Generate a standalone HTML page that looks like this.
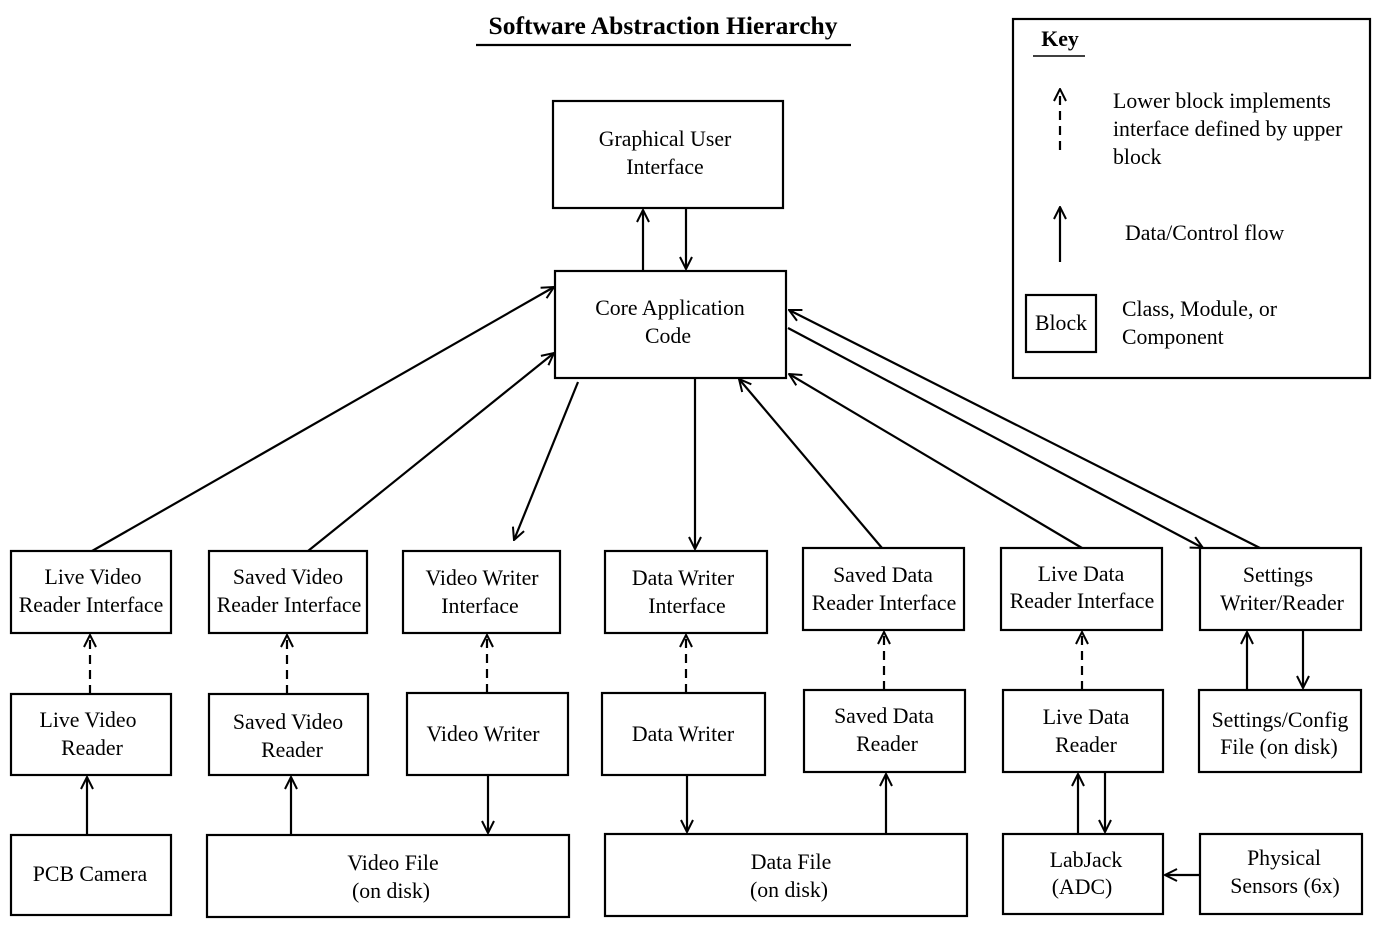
<!DOCTYPE html>
<html><head><meta charset="utf-8"><style>html,body{margin:0;padding:0;background:#fff}svg{display:block}</style></head>
<body>
<svg width="1387" height="929" viewBox="0 0 1387 929" xmlns="http://www.w3.org/2000/svg" font-family="Liberation Serif, serif" font-size="21.8" fill="#000">
<defs>
<marker id="a" viewBox="0 0 14 14" refX="13" refY="7" markerWidth="14" markerHeight="14" markerUnits="userSpaceOnUse" orient="auto">
<polyline points="1,1 13,7 1,13" fill="none" stroke="#000" stroke-width="2"/>
</marker>
</defs>
<g stroke="#000" stroke-width="2.2" fill="none">
<line x1="476" y1="45" x2="851" y2="45"/>
<rect x="1013" y="19" width="357" height="359"/>
<line x1="1033" y1="56" x2="1085" y2="56" stroke-width="1.5"/>
<line x1="1060" y1="150" x2="1060" y2="89" stroke-dasharray="9,6" marker-end="url(#a)"/>
<line x1="1060" y1="262" x2="1060" y2="207" marker-end="url(#a)"/>
<rect x="1026" y="295" width="70" height="57"/>
<rect x="553" y="101" width="230" height="107"/>
<rect x="555" y="271" width="231" height="107"/>
<rect x="11" y="551" width="160" height="82"/>
<rect x="209" y="551" width="158" height="82"/>
<rect x="403" y="551" width="157" height="82"/>
<rect x="605" y="551" width="162" height="82"/>
<rect x="803" y="548" width="161" height="82"/>
<rect x="1001" y="548" width="161" height="82"/>
<rect x="1200" y="548" width="161" height="82"/>
<rect x="11" y="694" width="160" height="81"/>
<rect x="209" y="694" width="159" height="81"/>
<rect x="407" y="693" width="161" height="82"/>
<rect x="602" y="693" width="163" height="82"/>
<rect x="804" y="690" width="161" height="82"/>
<rect x="1003" y="690" width="160" height="82"/>
<rect x="1199" y="690" width="162" height="82"/>
<rect x="11" y="835" width="160" height="80"/>
<rect x="207" y="835" width="362" height="82"/>
<rect x="605" y="834" width="362" height="82"/>
<rect x="1003" y="834" width="160" height="80"/>
<rect x="1200" y="834" width="162" height="80"/>
<line x1="643" y1="271" x2="643" y2="210" marker-end="url(#a)"/>
<line x1="686" y1="208" x2="686" y2="269" marker-end="url(#a)"/>
<line x1="92" y1="551" x2="554" y2="287" marker-end="url(#a)"/>
<line x1="308" y1="551" x2="554" y2="353" marker-end="url(#a)"/>
<line x1="578" y1="382" x2="514" y2="540" marker-end="url(#a)"/>
<line x1="695" y1="378" x2="695" y2="549" marker-end="url(#a)"/>
<line x1="882" y1="548" x2="739" y2="379" marker-end="url(#a)"/>
<line x1="1082" y1="548" x2="789" y2="374" marker-end="url(#a)"/>
<line x1="1260" y1="548" x2="789" y2="310" marker-end="url(#a)"/>
<line x1="788" y1="328" x2="1203" y2="548" marker-end="url(#a)"/>
<g stroke-dasharray="9,6">
<line x1="90" y1="694" x2="90" y2="635" marker-end="url(#a)"/>
<line x1="287" y1="694" x2="287" y2="635" marker-end="url(#a)"/>
<line x1="487" y1="693" x2="487" y2="635" marker-end="url(#a)"/>
<line x1="686" y1="693" x2="686" y2="635" marker-end="url(#a)"/>
<line x1="884" y1="690" x2="884" y2="632" marker-end="url(#a)"/>
<line x1="1082" y1="690" x2="1082" y2="632" marker-end="url(#a)"/>
</g>
<line x1="87" y1="835" x2="87" y2="777" marker-end="url(#a)"/>
<line x1="291" y1="835" x2="291" y2="777" marker-end="url(#a)"/>
<line x1="488" y1="775" x2="488" y2="833" marker-end="url(#a)"/>
<line x1="687" y1="775" x2="687" y2="832" marker-end="url(#a)"/>
<line x1="886" y1="834" x2="886" y2="774" marker-end="url(#a)"/>
<line x1="1078" y1="834" x2="1078" y2="774" marker-end="url(#a)"/>
<line x1="1105" y1="772" x2="1105" y2="832" marker-end="url(#a)"/>
<line x1="1247" y1="690" x2="1247" y2="632" marker-end="url(#a)"/>
<line x1="1303" y1="630" x2="1303" y2="688" marker-end="url(#a)"/>
<line x1="1200" y1="875" x2="1165" y2="875" marker-end="url(#a)"/>
</g>
<g text-anchor="middle">
<text x="663" y="34" font-weight="bold" font-size="25.5">Software Abstraction Hierarchy</text>
<text x="1060" y="46" font-weight="bold">Key</text>
<text x="1061" y="330">Block</text>
<text x="665" y="146">Graphical User</text><text x="665" y="174">Interface</text>
<text x="670" y="315">Core Application</text><text x="668" y="343">Code</text>
<text x="93" y="584">Live Video</text><text x="91" y="612">Reader Interface</text>
<text x="288" y="584">Saved Video</text><text x="289" y="612">Reader Interface</text>
<text x="482" y="585">Video Writer</text><text x="480" y="613">Interface</text>
<text x="683" y="585">Data Writer</text><text x="687" y="613">Interface</text>
<text x="883" y="582">Saved Data</text><text x="884" y="610">Reader Interface</text>
<text x="1081" y="581">Live Data</text><text x="1082" y="608">Reader Interface</text>
<text x="1278" y="582">Settings</text><text x="1282" y="610">Writer/Reader</text>
<text x="88" y="727">Live Video</text><text x="92" y="755">Reader</text>
<text x="288" y="729">Saved Video</text><text x="292" y="757">Reader</text>
<text x="483" y="741">Video Writer</text>
<text x="683" y="741">Data Writer</text>
<text x="884" y="723">Saved Data</text><text x="887" y="751">Reader</text>
<text x="1086" y="724">Live Data</text><text x="1086" y="752">Reader</text>
<text x="1280" y="727">Settings/Config</text><text x="1279" y="754">File (on disk)</text>
<text x="90" y="881">PCB Camera</text>
<text x="393" y="870">Video File</text><text x="391" y="898">(on disk)</text>
<text x="791" y="869">Data File</text><text x="789" y="897">(on disk)</text>
<text x="1086" y="867">LabJack</text><text x="1082" y="894">(ADC)</text>
<text x="1284" y="865">Physical</text><text x="1285" y="893">Sensors (6x)</text>
</g>
<text x="1113" y="108">Lower block implements</text>
<text x="1113" y="136">interface defined by upper</text>
<text x="1113" y="164">block</text>
<text x="1125" y="240">Data/Control flow</text>
<text x="1122" y="316">Class, Module, or</text>
<text x="1122" y="344">Component</text>
</svg>
</body></html>
